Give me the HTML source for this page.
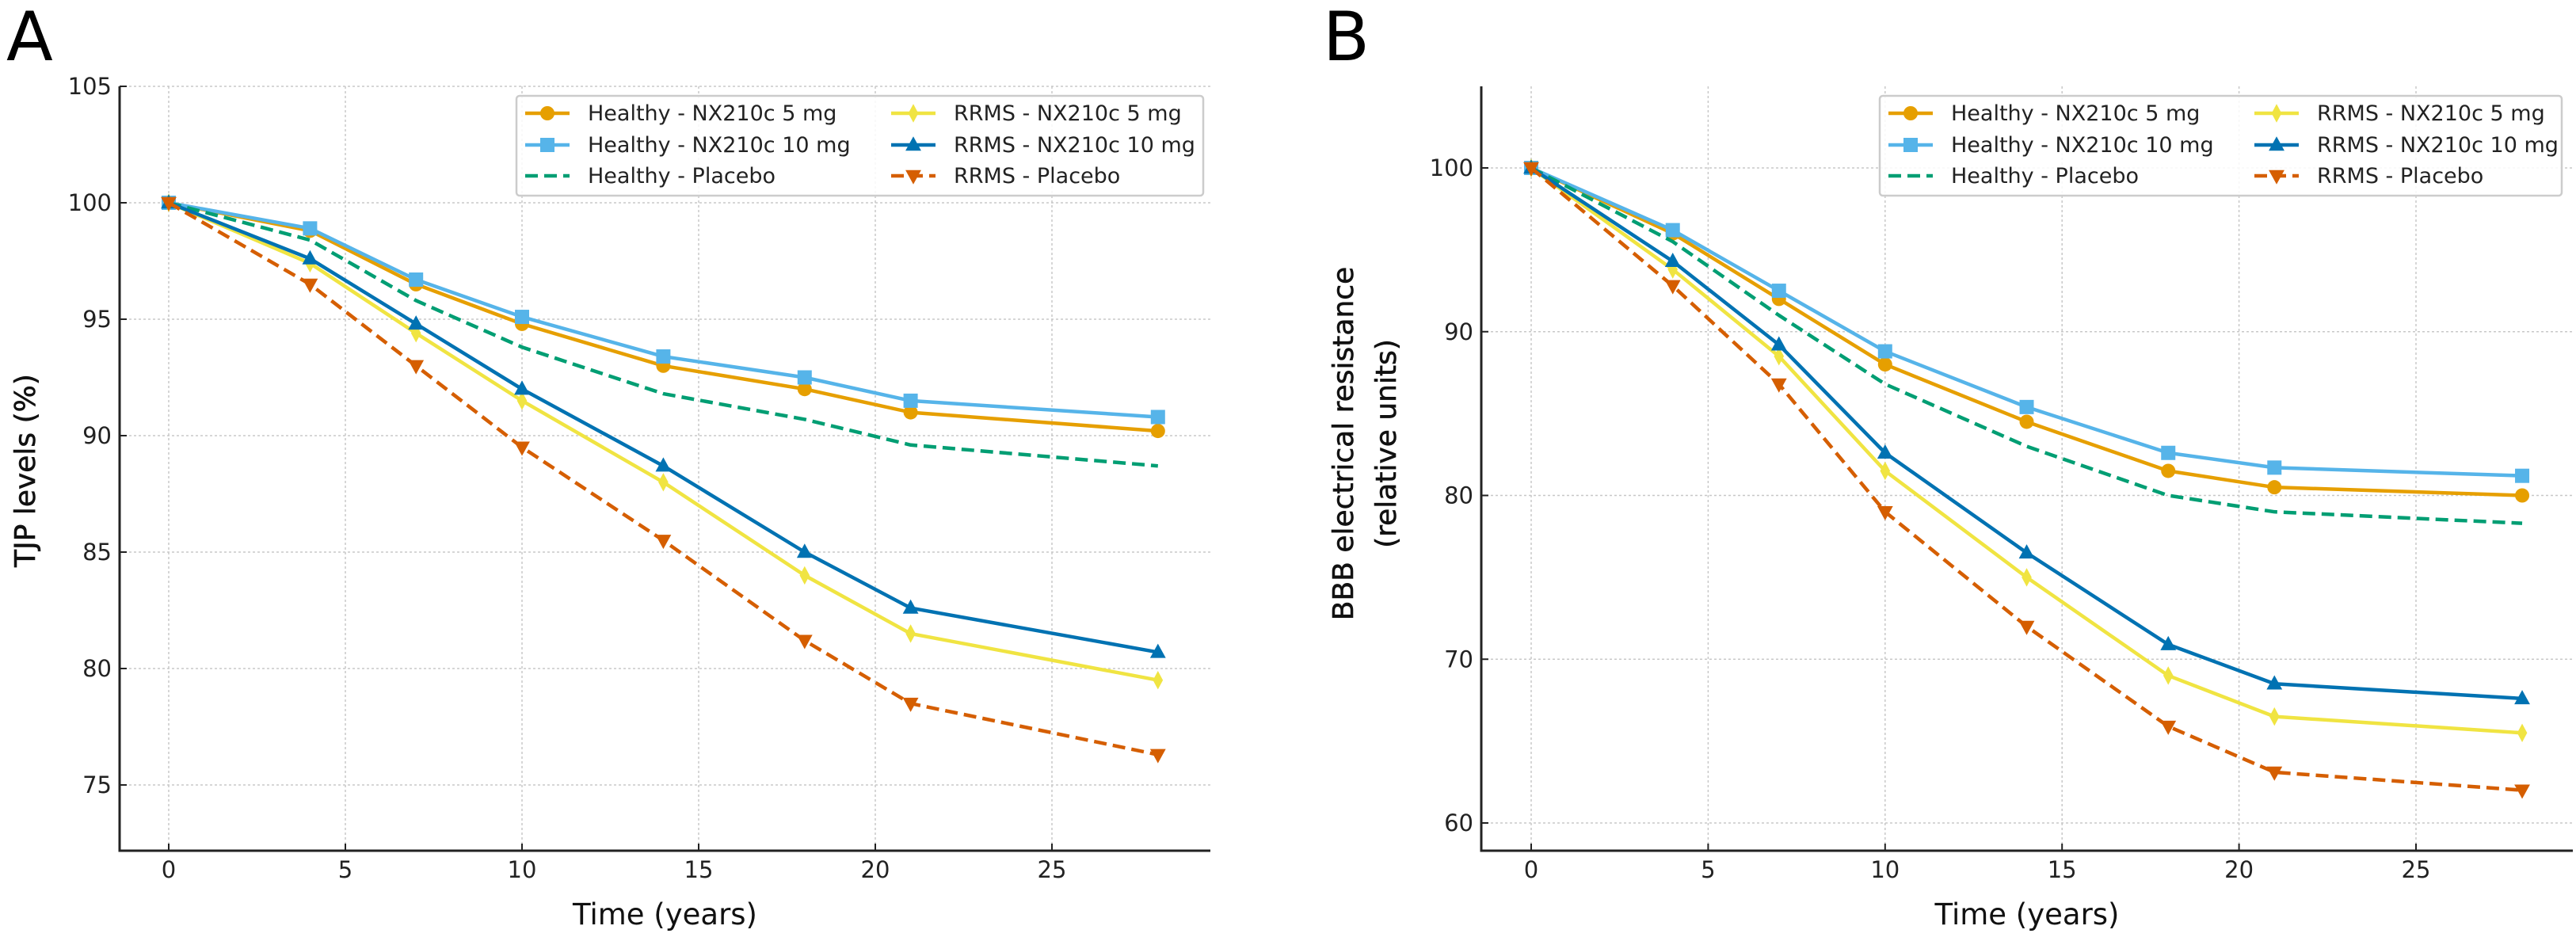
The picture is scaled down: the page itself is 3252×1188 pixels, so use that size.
<!DOCTYPE html>
<html><head><meta charset="utf-8"><style>
html,body{margin:0;padding:0;background:#fff;}
svg{display:block;font-family:"DejaVu Sans","Liberation Sans",sans-serif;}
</style></head><body>
<svg id="chart" width="3252" height="1188" viewBox="0 0 3252 1188" xmlns="http://www.w3.org/2000/svg"></svg>
<script>
const years = [0,4,7,10,14,18,21,28];
const seriesNames = ["Healthy - NX210c 5 mg","Healthy - NX210c 10 mg","Healthy - Placebo","RRMS - NX210c 5 mg","RRMS - NX210c 10 mg","RRMS - Placebo"];
const tjpH5 = [100,98.8,96.5,94.8,93.0,92.0,91.0,90.2];
const tjpH10 = [100,98.9,96.7,95.1,93.4,92.5,91.5,90.8];
const tjpHP = [100,98.4,95.8,93.8,91.8,90.7,89.6,88.7];
const tjpR5 = [100,97.4,94.4,91.5,88.0,84.0,81.5,79.5];
const tjpR10 = [100,97.6,94.8,92.0,88.7,85.0,82.6,80.7];
const tjpRP = [100,96.5,93.0,89.5,85.5,81.2,78.5,76.3];
const bbbH5 = [100,96.0,92.0,88.0,84.5,81.5,80.5,80.0];
const bbbH10 = [100,96.2,92.5,88.8,85.4,82.6,81.7,81.2];
const bbbHP = [100,95.5,91.0,86.8,83.0,80.0,79.0,78.3];
const bbbR5 = [100,93.8,88.5,81.5,75.0,69.0,66.5,65.5];
const bbbR10 = [100,94.3,89.2,82.6,76.5,70.9,68.5,67.6];
const bbbRP = [100,92.8,86.8,79.0,72.0,65.9,63.1,62.0];
const xTicks = [0,5,10,15,20,25];
const yTicksA = [75,80,85,90,95,100,105];
const yTicksB = [60,70,80,90,100];

const NS="http://www.w3.org/2000/svg";
const svg=document.getElementById('chart');
function mk(tag,attrs,parent){const e=document.createElementNS(NS,tag);for(const k in attrs)e.setAttribute(k,attrs[k]);(parent||svg).appendChild(e);return e;}
const colors=["#E69F00","#56B4E9","#009E73","#F0E442","#0072B2","#D55E00"];
const markers=["circle","square",null,"diamond","tri","tridown"];
const dashed=[false,false,true,false,false,true];

function marker(g,type,x,y,c,s){
  if(type==="circle")return mk('circle',{cx:x,cy:y,r:s,fill:c},g);
  if(type==="square")return mk('rect',{x:x-s,y:y-s,width:2*s,height:2*s,fill:c},g);
  if(type==="diamond")return mk('polygon',{points:`${x},${y-s*1.3} ${x+s*0.7},${y} ${x},${y+s*1.3} ${x-s*0.7},${y}`,fill:c},g);
  if(type==="tri")return mk('polygon',{points:`${x},${y-s*1.2} ${x+s*1.1},${y+s*0.8} ${x-s*1.1},${y+s*0.8}`,fill:c},g);
  if(type==="tridown")return mk('polygon',{points:`${x},${y+s*1.2} ${x+s*1.1},${y-s*0.8} ${x-s*1.1},${y-s*0.8}`,fill:c},g);
}

function panel(p){
  const g=mk('g',{});
  
  
  const L=p.left,R=p.right,T=109,B=1074;
  const sx=v=>p.x0+v*p.xu;
  const sy=v=>p.yRefPx+(p.yRef-v)*p.yu;
  xTicks.forEach(t=>{const l=mk('line',{x1:sx(t),x2:sx(t),y1:T,y2:B,stroke:'#c8c8c8','stroke-width':1.5,'stroke-dasharray':'3,3'},g);});
  p.yTicks.forEach(t=>{const l=mk('line',{x1:L,x2:R,y1:sy(t),y2:sy(t),stroke:'#c8c8c8','stroke-width':1.5,'stroke-dasharray':'3,3'},g);});
  p.data.forEach((d,i)=>{
    const sg=mk('g',{},g);
    
    
    const pts=d.map((v,j)=>sx(years[j])+','+sy(v)).join(' ');
    const pl=mk('polyline',{points:pts,fill:'none',stroke:colors[i],'stroke-width':4.5,'stroke-linejoin':'round','stroke-dasharray':dashed[i]?'16,8':'none'},sg);
    
    
    if(markers[i])d.forEach((v,j)=>{const m=marker(sg,markers[i],sx(years[j]),sy(v),colors[i],9);});
  });
  const sp1=mk('line',{x1:L,x2:L,y1:T,y2:B+1.5,stroke:'#222','stroke-width':3},g);
  
  const sp2=mk('line',{x1:L,x2:R,y1:B,y2:B,stroke:'#222','stroke-width':3},g);
  
  xTicks.forEach(t=>{
    mk('line',{x1:sx(t),x2:sx(t),y1:B-9,y2:B,stroke:'#222','stroke-width':2},g);
    const tx=mk('text',{x:sx(t),y:1108,'font-size':29,'text-anchor':'middle',fill:'#222'},g);
    tx.textContent=t;
    
  });
  p.yTicks.forEach(t=>{
    mk('line',{x1:L,x2:L+9,y1:sy(t),y2:sy(t),stroke:'#222','stroke-width':2},g);
    const tx=mk('text',{x:L-10,y:sy(t)+10,'font-size':29,'text-anchor':'end',fill:'#222'},g);
    tx.textContent=t;
    
  });
  const xt=mk('text',{x:(L+R)/2,y:1167,'font-size':37,'text-anchor':'middle',fill:'#111'},g);
  xt.textContent='Time (years)';
  
  p.yTitle.forEach((s,k)=>{
    const yt=mk('text',{x:0,y:0,'font-size':36,'font-weight':'500','text-anchor':'middle',fill:'#111',stroke:'#111','stroke-width':0.6,transform:`translate(${p.yTitleX[k]},${p.yTitleY}) rotate(-90)`},g);
    yt.textContent=s;
    
  });
  const pl=mk('text',{x:p.labelX,y:76,'font-size':86,fill:'#000'},g);
  pl.textContent=p.letter;
  
  const lg=mk('g',{},g);
  
  mk('rect',{x:p.legX,y:121,width:p.legW,height:126,rx:4,fill:'#fff','fill-opacity':0.85,stroke:'#cccccc','stroke-width':2.5},lg);
  const rowsY=[143,183,222];
  seriesNames.forEach((n,i)=>{
    const col=i<3?0:1,row=i%3;
    const hx=p.legX+(col?473:11), y=rowsY[row];
    const e=mk('g',{},lg);
    
    mk('line',{x1:hx,x2:hx+56,y1:y,y2:y,stroke:colors[i],'stroke-width':4.5,'stroke-dasharray':dashed[i]?'16,8':'none'},e);
    if(markers[i])marker(e,markers[i],hx+28,y,colors[i],9);
    const t=mk('text',{x:hx+79,y:y+9,'font-size':27,fill:'#222'},e);
    t.textContent=n;
  });
}
panel({name:'panel-a-tjp-levels',letter:'A',labelX:8,left:151,right:1528,x0:213,xu:44.6,yRef:105,yRefPx:109,yu:29.4,yTicks:yTicksA,
  data:[tjpH5,tjpH10,tjpHP,tjpR5,tjpR10,tjpRP],yTitle:['TJP levels (%)'],yTitleX:[44],yTitleY:594,legX:652,legW:867});
panel({name:'panel-b-bbb-resistance',letter:'B',labelX:1670,left:1870,right:3248,x0:1933,xu:44.68,yRef:100,yRefPx:212,yu:20.675,yTicks:yTicksB,
  data:[bbbH5,bbbH10,bbbHP,bbbR5,bbbR10,bbbRP],yTitle:['BBB electrical resistance','(relative units)'],yTitleX:[1708,1762],yTitleY:560,legX:2373,legW:861});
</script>
</body></html>
